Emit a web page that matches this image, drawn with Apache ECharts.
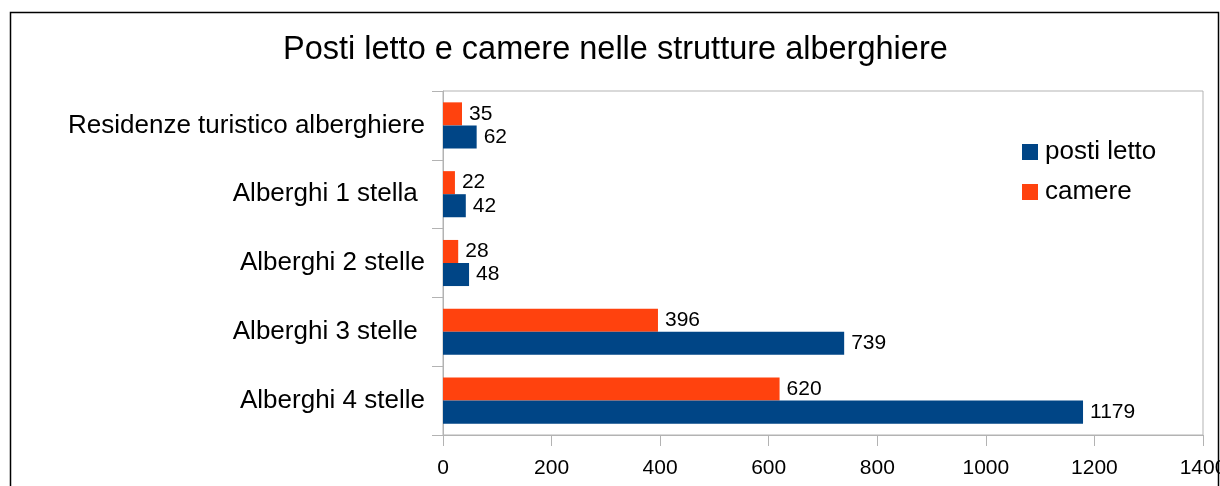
<!DOCTYPE html>
<html><head><meta charset="utf-8">
<script src="https://cdn.jsdelivr.net/npm/echarts@6/dist/echarts.min.js"></script>
<style>html,body{margin:0;padding:0;background:#fff}#c{width:1220px;height:486px}</style>
</head><body><div id="c"></div>
<script>
const categories = ["Residenze turistico alberghiere", "Alberghi 1 stella ", "Alberghi 2 stelle", "Alberghi 3 stelle ", "Alberghi 4 stelle"];
const postiLetto = [62, 42, 48, 739, 1179];
const camere = [35, 22, 28, 396, 620];
const xTicks = [0, 200, 400, 600, 800, 1000, 1200, 1400];

const font = "'Liberation Sans', Arial, sans-serif";
const chart = echarts.init(document.getElementById('c'), null, {renderer: 'canvas'});
chart.setOption({
  animation: false,
  backgroundColor: '#fff',
  title: {
    text: 'Posti letto e camere nelle strutture alberghiere',
    left: 278, top: 29,
    textStyle: {fontFamily: font, fontSize: 32.5, fontWeight: 'normal', color: '#000'}
  },
  legend: {
    data: ['posti letto', 'camere'],
    orient: 'vertical', left: 1022, top: 139, padding: 0,
    itemWidth: 16, itemHeight: 16, itemGap: 14, icon: 'rect',
    textStyle: {fontFamily: font, fontSize: 26, color: '#000', padding: [0, 0, 0, 2]}
  },
  grid: {left: 443, top: 91, right: 17, bottom: 51, show: true, borderColor: '#b3b3b3', borderWidth: 1, outerBoundsMode: 'none', containLabel: false},
  xAxis: {
    type: 'value', min: xTicks[0], max: xTicks[xTicks.length - 1], interval: 200,
    axisLine: {show: true, lineStyle: {color: '#b3b3b3'}},
    axisTick: {show: true, length: 11, lineStyle: {color: '#b3b3b3'}},
    splitLine: {show: false},
    axisLabel: {fontFamily: font, fontSize: 21, color: '#000', margin: 23, formatter: v => String(v)}
  },
  yAxis: {
    type: 'category', data: categories, inverse: true,
    axisLine: {show: true, lineStyle: {color: '#b3b3b3'}},
    axisTick: {show: true, length: 11, lineStyle: {color: '#b3b3b3'}},
    axisLabel: {fontFamily: font, fontSize: 26, color: '#000', margin: 18}
  },
  series: [
    {name: 'camere', type: 'bar', data: camere, barGap: '0%', barCategoryGap: '33%',
     itemStyle: {color: '#ff420e'},
     label: {show: true, position: 'right', distance: 7, fontFamily: font, fontSize: 21, color: '#000'}},
    {name: 'posti letto', type: 'bar', data: postiLetto, barGap: '0%', barCategoryGap: '33%',
     itemStyle: {color: '#004586'},
     label: {show: true, position: 'right', distance: 7, fontFamily: font, fontSize: 21, color: '#000'}}
  ],
  graphic: [{
    type: 'rect', shape: {x: 10.5, y: 12.5, width: 1208, height: 500},
    style: {fill: 'none', stroke: '#000', lineWidth: 1.5}, silent: true, z: 100
  }]
});
</script></body></html>
